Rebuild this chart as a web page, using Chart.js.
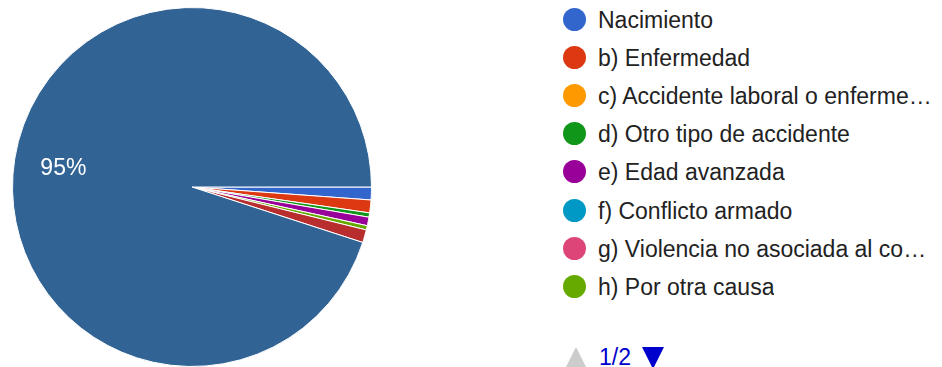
<!DOCTYPE html>
<html>
<head>
<meta charset="utf-8">
<script src="https://cdn.jsdelivr.net/npm/chart.js@4.4.1/dist/chart.umd.min.js"></script>
<style>
  body { margin: 0; background: #fff; width: 942px; height: 367px; overflow: hidden; position: relative; font-family: "Liberation Sans", Arial, sans-serif; }
  #pie { position: absolute; left: 0; top: 0; }
  #legend { position: absolute; left: 563px; top: 0; width: 370px; }
  .item { display: flex; align-items: center; height: 38.2px; }
  .dot { width: 23px; height: 23px; border-radius: 50%; flex: none; margin-right: 12px; }
  .txt { font-size: 23px; color: #222; white-space: nowrap; overflow: hidden; text-overflow: ellipsis; padding-top: 2px; }
  #pager { position: absolute; left: 565px; top: 344px; display: flex; align-items: center; font-size: 23px; }
  .up { width: 0; height: 0; border-left: 11px solid transparent; border-right: 11px solid transparent; border-bottom: 22px solid #ccc; }
  .down { width: 0; height: 0; border-left: 11px solid transparent; border-right: 11px solid transparent; border-top: 22px solid #0000cc; }
  .page { color: #0000cc; margin: 0 11px 0 12px; }
</style>
</head>
<body>
<canvas id="pie" width="384" height="374"></canvas>
<div id="legend"></div>
<div id="pager"><div class="up"></div><span class="page">1/2</span><div class="down"></div></div>
<script>
// Respuestas por causa
const labels = [
  'Nacimiento',
  'b) Enfermedad',
  'c) Accidente laboral o enfermedad profesional',
  'd) Otro tipo de accidente',
  'e) Edad avanzada',
  'f) Conflicto armado',
  'g) Violencia no asociada al conflicto armado',
  'h) Por otra causa',
  'i) No sabe',
  'j) No aplica'
];
const counts = [3, 3, 0, 1, 2, 0, 0, 1, 3, 247];
const colors = ['#3366cc', '#dc3912', '#ff9900', '#109618', '#990099', '#0099c6', '#dd4477', '#66aa00', '#b82e2e', '#316395'];
const legendPageSize = 8;

// etiquetas de porcentaje dentro de las porciones grandes
const pctLabels = {
  id: 'pctLabels',
  afterDatasetsDraw(chart) {
    const ctx = chart.ctx;
    const meta = chart.getDatasetMeta(0);
    const total = counts.reduce((a, b) => a + b, 0);
    ctx.save();
    ctx.fillStyle = '#fff';
    ctx.font = '23px "Liberation Sans", Arial, sans-serif';
    ctx.textAlign = 'center';
    ctx.textBaseline = 'middle';
    meta.data.forEach((arc, i) => {
      const pct = counts[i] / total * 100;
      if (pct < 5) return;
      const mid = (arc.startAngle + arc.endAngle) / 2;
      const r = arc.outerRadius * 0.72;
      // +2: centrar las mayúsculas, no la caja del texto
      ctx.fillText(Math.round(pct) + '%', arc.x + Math.cos(mid) * r - 1, arc.y + Math.sin(mid) * r + 2);
    });
    ctx.restore();
  }
};

new Chart(document.getElementById('pie').getContext('2d'), {
  type: 'pie',
  data: {
    labels: labels,
    datasets: [{
      data: counts,
      backgroundColor: colors,
      borderColor: '#fff',
      borderWidth: 1
    }]
  },
  options: {
    responsive: false,
    animation: false,
    rotation: 90,
    layout: { padding: 7 },
    plugins: {
      legend: { display: false },
      tooltip: { enabled: false }
    }
  },
  plugins: [pctLabels]
});

// leyenda (primera página)
const legend = document.getElementById('legend');
labels.slice(0, legendPageSize).forEach((name, i) => {
  const row = document.createElement('div');
  row.className = 'item';
  row.innerHTML = '<span class="dot" style="background:' + colors[i] + '"></span><span class="txt"></span>';
  row.querySelector('.txt').textContent = name;
  legend.appendChild(row);
});
</script>
</body>
</html>
